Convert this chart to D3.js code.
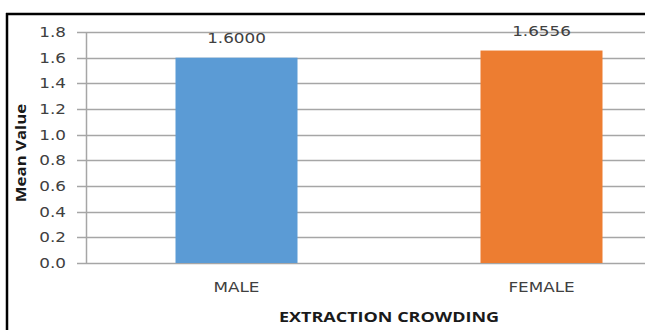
<!DOCTYPE html>
<html><head><meta charset="utf-8">
<script src="https://cdn.jsdelivr.net/npm/d3@7"></script>
<style>body{margin:0;background:#fff;overflow:hidden}svg{display:block}</style>
</head><body>
<script>
const categories = ["MALE", "FEMALE"];
const values = [1.6000, 1.6556];
const valueLabels = ["1.6000", "1.6556"];
const colors = ["#5B9BD5", "#ED7D31"];
const yTicks = [0, 0.2, 0.4, 0.6, 0.8, 1.0, 1.2, 1.4, 1.6, 1.8];
const xTitle = "EXTRACTION CROWDING";
const yTitle = "Mean Value";

(function () {
const W = 645, H = 330;
const SX = 1.2; // horizontal glyph stretch seen in the reference
const svg = d3.select("body").append("svg").attr("width", W).attr("height", H);
svg.append("rect").attr("width", W).attr("height", H).attr("fill", "#fff");

const pL = 84, pR = 694, pT = 32, pB = 263;
const x = d3.scaleBand().domain(categories).range([pL, pR]).paddingInner(0.6).paddingOuter(0.3);
const y = d3.scaleLinear().domain([0, 1.8]).range([pB, pT]);

// gridlines
svg.append("g").selectAll("line").data(yTicks).join("line")
  .attr("x1", pL - 7).attr("x2", W).attr("y1", d => Math.round(y(d)) + 0.5).attr("y2", d => Math.round(y(d)) + 0.5)
  .attr("stroke", "#a6a6a6").attr("stroke-width", 1.5);

// y axis line
svg.append("line").attr("x1", pL + 2.5).attr("x2", pL + 2.5).attr("y1", pT).attr("y2", pB)
  .attr("stroke", "#a6a6a6").attr("stroke-width", 1.5);

// y tick labels
const yAxis = d3.axisLeft(y).tickValues(yTicks).tickFormat(d3.format(".1f")).tickSize(0).tickPadding(0);
const gy = svg.append("g").attr("transform", `translate(${pL - 18},0)`).call(yAxis);
gy.select(".domain").remove();
gy.selectAll("text").attr("font-family", "DejaVu Sans, Verdana, sans-serif").attr("font-size", 14)
  .attr("transform", `scale(${SX},1)`).attr("fill", "#404040");

// bars
svg.append("g").selectAll("rect").data(values).join("rect")
  .attr("x", (d, i) => x(categories[i])).attr("width", x.bandwidth())
  .attr("y", d => y(d)).attr("height", d => pB - y(d))
  .attr("fill", (d, i) => colors[i]);

// value labels
svg.append("g").selectAll("text").data(values).join("text")
  .attr("transform", (d, i) => `translate(${x(categories[i]) + x.bandwidth() / 2},${y(d) - 15}) scale(${SX},1)`)
  .attr("text-anchor", "middle")
  .attr("font-family", "DejaVu Sans, Verdana, sans-serif").attr("font-size", 14)
  .attr("fill", "#404040")
  .text((d, i) => valueLabels[i]);

// x axis labels
const xAxis = d3.axisBottom(x).tickSize(0).tickPadding(0);
const gx = svg.append("g").attr("transform", `translate(0,${pB + 29})`).call(xAxis);
gx.select(".domain").remove();
gx.selectAll("text").attr("font-family", "DejaVu Sans, Verdana, sans-serif").attr("font-size", 14)
  .attr("transform", `scale(${SX},1)`).attr("fill", "#404040").attr("dy", 0);

// axis titles
svg.append("text").attr("transform", `translate(${(pL + pR) / 2},322) scale(${SX},1)`).attr("text-anchor", "middle")
  .attr("font-family", "Open Sans, sans-serif").attr("font-weight", "bold").attr("font-size", 15)
  .attr("fill", "#1a1a1a")
  .text(xTitle);
svg.append("text").attr("transform", `translate(26,153) rotate(-90) scale(${SX},1)`).attr("text-anchor", "middle")
  .attr("font-family", "Open Sans, sans-serif").attr("font-weight", "bold").attr("font-size", 14)
  .attr("fill", "#1a1a1a")
  .text(yTitle);

// frame
svg.append("line").attr("x1", 6).attr("x2", W).attr("y1", 14).attr("y2", 14).attr("stroke", "#000").attr("stroke-width", 2.5);
svg.append("line").attr("x1", 7).attr("x2", 7).attr("y1", 13).attr("y2", H).attr("stroke", "#000").attr("stroke-width", 2.5);
})();
</script>
</body></html>
